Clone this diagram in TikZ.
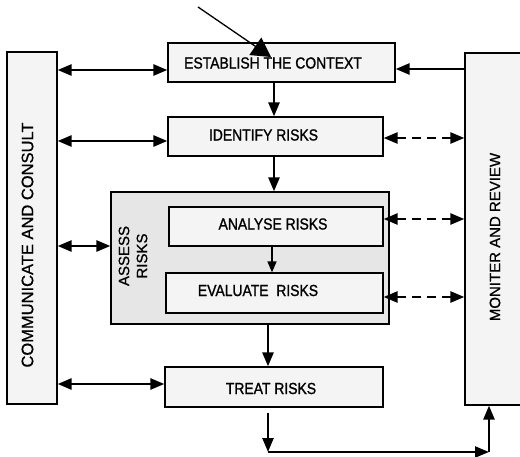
\documentclass[tikz,border=0pt]{standalone}
\usepackage{fontspec}
\setmainfont{Liberation Sans}[FakeBold=0.8]
\newfontfamily\boxfont[FakeStretch=0.87,FakeBold=1.2]{Liberation Sans}
\usetikzlibrary{arrows.meta}
\definecolor{boxgray}{HTML}{F4F4F4}
\definecolor{assessgray}{HTML}{E6E6E6}
\tikzset{
  box/.style={draw, line width=1.2pt, fill=boxgray, inner sep=0pt},
  lbl/.style={font=\boxfont\fontsize{16}{16}\selectfont, inner sep=0pt},
  sidelbl/.style={font=\fontsize{16.5}{16.5}\selectfont, inner sep=0pt, rotate=90},
  hd/.style={-{Triangle[length=14pt,width=11pt]}},
  bihd/.style={{Triangle[length=14pt,width=11pt]}-{Triangle[length=14pt,width=11pt]}},
  thick2/.style={line width=2.5pt},
  dashline/.style={line width=2.5pt, dash pattern=on 9pt off 6pt},
}
\begin{document}
\begin{tikzpicture}[x=1pt,y=-1pt]
\useasboundingbox (0,0) rectangle (520,457);
% boxes
\node[box, minimum width=50, minimum height=352] (cc) at (32,228) {};
\node[box, minimum width=60, minimum height=352] (mon) at (495,229) {};
\node[box, minimum width=227, minimum height=39] (est) at (281.5,62.5) {};
\node[box, minimum width=215, minimum height=39] (ide) at (275.5,136.5) {};
\node[box, fill=assessgray, minimum width=278, minimum height=132] (ass) at (250,258) {};
\node[box, minimum width=214, minimum height=39] (ana) at (276,226.5) {};
\node[box, minimum width=217, minimum height=40] (eva) at (274.5,293) {};
\node[box, minimum width=218, minimum height=40] (tre) at (274,387) {};
% labels
\node[lbl] (tEst) at (273,63) {ESTABLISH THE CONTEXT};
\node[lbl] (tIde) at (263.5,135) {IDENTIFY RISKS};
\node[lbl] (tAna) at (273,224) {ANALYSE RISKS};
\node[lbl] (tEva) at (258,290.5) {EVALUATE\ \ RISKS};
\node[lbl] (tTre) at (271,388.5) {TREAT RISKS};
\node[sidelbl] (tCc) at (27.5,245) {COMMUNICATE AND CONSULT};
\node[sidelbl, font=\fontsize{15}{15}\selectfont] (tMon) at (495,237) {MONITER AND REVIEW};
\node[sidelbl, font=\fontsize{15}{15}\selectfont, align=center] (tAss) at (133,256) {ASSESS\\[3pt]RISKS};
% top diagonal arrow
\coordinate (src) at (198,7);
\coordinate (tip) at (271,57);
\draw[line width=1.3pt, -{Triangle[length=19pt,width=21pt]}] (src) -- (tip);
% left bidirectional arrows
\draw[thick2, bihd] (cc.east |- 0,70) -- (est.west |- 0,70);
\draw[thick2, bihd] (cc.east |- 0,141) -- (ide.west |- 0,141);
\draw[thick2, bihd] (cc.east |- 0,246) -- (ass.west |- 0,246);
\draw[thick2, bihd] (cc.east |- 0,384) -- (tre.west |- 0,384);
% right side
\draw[thick2, hd] (mon.west |- 0,69) -- (est.east |- 0,69);
\draw[dashline, bihd] (ide.east |- 0,138) -- (mon.west |- 0,138);
\draw[dashline, bihd] (ana.east |- 0,219) -- (mon.west |- 0,219);
\draw[dashline, bihd] (eva.east |- 0,297) -- (mon.west |- 0,297);
% vertical flow
\draw[thick2, hd] (est.south -| 274,0) -- (ide.north -| 274,0);
\draw[thick2, hd] (ide.south -| 274,0) -- (ass.north -| 274,0);
\draw[line width=1.5pt, -{Triangle[length=11pt,width=9pt]}] (ana.south -| 272,0) -- (eva.north -| 272,0);
\draw[thick2, hd] (ass.south -| 268,0) -- (tre.north -| 268,0);
% bottom loop
\coordinate (c1) at (268,452);
\coordinate (c2) at (489,452);
\draw[thick2, hd, shorten <=5pt] (tre.south -| c1) -- (c1);
\draw[thick2, hd] (c1) -- (c2);
\draw[thick2, hd] (c2) -- (mon.south -| c2);
\end{tikzpicture}
\end{document}
